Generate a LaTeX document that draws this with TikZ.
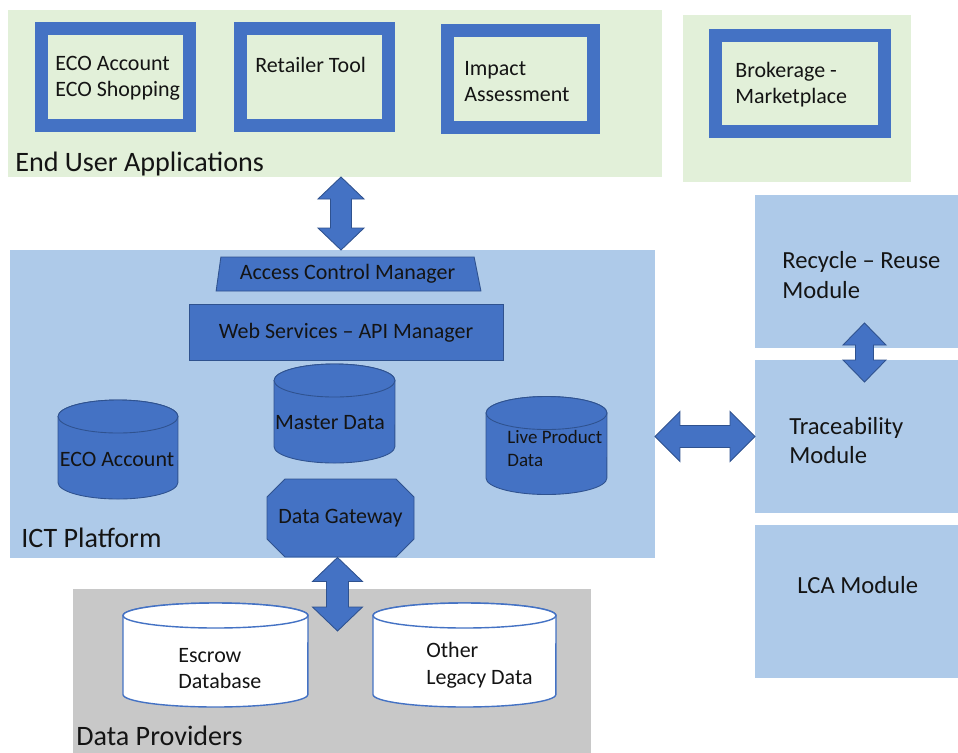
\documentclass[tikz,border=0pt]{standalone}
\usepackage{fontspec}
\setmainfont{Carlito}
\usetikzlibrary{positioning,calc,shapes.geometric,shapes.misc}
\definecolor{office}{RGB}{68,114,196}
\definecolor{officedk}{RGB}{47,82,143}
\definecolor{skyish}{RGB}{174,202,233}
\definecolor{mint}{RGB}{226,240,217}
\definecolor{stone}{RGB}{200,200,200}
\definecolor{ink}{RGB}{20,20,20}
\newlength{\px}
\setlength{\px}{0.02cm}
\tikzset{
  panel/.style={fill=#1,anchor=north west,inner sep=0pt,outer sep=0pt},
  panel/.default=skyish,
  appbox/.style={draw=office,line width=13\px,fill=mint,inner sep=0pt},
  apptxt/.style={anchor=west,align=left,inner sep=0pt,text=ink,
    font=\fontsize{12.5}{14.8}\selectfont},
  title/.style={anchor=west,inner sep=0pt,text=ink,font=\fontsize{16}{19}\selectfont},
  modtxt/.style={anchor=west,align=left,inner sep=0pt,text=ink,
    font=\fontsize{14}{16.8}\selectfont},
  solid/.style={fill=office,draw=officedk,line width=0.5pt,inner sep=0pt,text=ink,
    font=\fontsize{12.5}{14.8}\selectfont},
  dbtxt/.style={inner sep=0pt,align=left,text=ink,font=\fontsize{12.5}{15.2}\selectfont},
  canblue/.style={fill=office,draw=officedk,line width=0.5pt},
  canwhite/.style={fill=white,draw=office,line width=0.8pt},
  arrowfill/.style={fill=office,draw=officedk,line width=0.5pt},
  % database can: width, height, cap radius (px), style
  pics/can/.style n args={4}{code={
    \path[#4] (-#1/2,-#2/2+#3) -- (-#1/2,#2/2-#3)
      arc[start angle=180,end angle=360,x radius=#1*0.01cm,y radius=#3*0.02cm]
      -- (#1/2,-#2/2+#3)
      arc[start angle=0,end angle=180,x radius=#1*0.01cm,y radius=#3*0.02cm] -- cycle;
    \path[#4] (0,-#2/2+#3) ellipse[x radius=#1*0.01cm,y radius=#3*0.02cm];
  }},
}
% block arrow with a head at both ends: from, to, head length, head half width, shaft half width
\newcommand{\fatarrow}[5]{%
  \filldraw[arrowfill] (#1)
    -- ($(#1)!#3!(#2)!#4!90:(#2)$) -- ($(#1)!#3!(#2)!#5!90:(#2)$)
    -- ($(#2)!#3!(#1)!#5!-90:(#1)$) -- ($(#2)!#3!(#1)!#4!-90:(#1)$)
    -- (#2)
    -- ($(#2)!#3!(#1)!#4!90:(#1)$) -- ($(#2)!#3!(#1)!#5!90:(#1)$)
    -- ($(#1)!#3!(#2)!#5!-90:(#2)$) -- ($(#1)!#3!(#2)!#4!-90:(#2)$)
    -- cycle;}

\begin{document}
\begin{tikzpicture}[x=0.02cm,y=-0.02cm]
  \useasboundingbox (0,0) rectangle (958,752);

  % end user applications
  \node[panel=mint,minimum width=654\px,minimum height=167\px] (eua) at (8,10) {};
  \node[panel=mint,minimum width=228\px,minimum height=167\px] (mkt) at (683,15) {};
  \foreach \n/\x/\y/\w/\h in {eco/115.5/77/148/97, ret/314.5/77/148/97,
      imp/520.5/79/146/97, brk/799.5/83/169/96}
    \node[appbox,minimum width=\w\px,minimum height=\h\px] (\n) at (\x,\y) {};
  \node[apptxt] (ecot) at (55,78) {ECO Account\\ECO Shopping};
  \node[apptxt] (rett) at (255,65) {Retailer Tool};
  \node[apptxt] (impt) at (464,82) {Impact\\Assessment};
  \node[apptxt] (brkt) at (735,85) {Brokerage -\\Marketplace};
  \node[title] (euat) at (15,164) {End User Applications};

  % ICT platform
  \node[panel,minimum width=645\px,minimum height=308\px] (ict) at (10,250) {};
  \node[solid,trapezium,trapezium left angle=78,trapezium right angle=73,
    trapezium stretches=true,minimum width=265\px,minimum height=34\px] (acm)
    at (347.5,274) {Access Control Manager};
  \node[solid,minimum width=314\px,minimum height=56\px] (wsm) at (346,332.5)
    {Web Services -- API Manager};
  \pic (mdc) at (334.5,413.5) {can={121}{99}{16.5}{canblue}};
  \pic (ecc) at (118,449.5) {can={120}{99}{16.5}{canblue}};
  \pic (lpc) at (546.5,445.5) {can={121}{98}{16.5}{canblue}};
  \node[dbtxt] (mdt) at (330,423) {Master Data};
  \node[dbtxt] (ect) at (117,459) {ECO Account};
  \node[dbtxt,anchor=west,font=\fontsize{10.8}{13}\selectfont] (lpt) at (507,448.5)
    {Live Product\\Data};
  \node[solid,chamfered rectangle,chamfered rectangle xsep=9\px,
    chamfered rectangle ysep=9\px,minimum width=147\px,minimum height=78\px] (dgw)
    at (340.5,518) {Data Gateway};
  \node[title] (ictt) at (21,538) {ICT Platform};

  % data providers
  \node[panel=stone,minimum width=518\px,minimum height=170\px] (dp) at (73,589) {};
  \pic (esc) at (215.5,655) {can={185}{104}{12.5}{canwhite}};
  \pic (olc) at (464.5,655) {can={183}{104}{12.5}{canwhite}};
  \node[dbtxt,anchor=west] (est) at (178,668.5) {Escrow\\Database};
  \node[dbtxt,anchor=west] (olt) at (426,665.5) {Other\\Legacy Data};
  \node[title,anchor=base west] (dpt) at (76,745) {Data Providers};

  % modules
  \foreach \n/\y in {rrm/195,trm/360,lca/525}
    \node[panel,minimum width=205\px,minimum height=153\px] (\n) at (755,\y) {};
  \node[modtxt] (rrt) at (782,275) {Recycle -- Reuse\\Module};
  \node[modtxt] (trt) at (789,440.5) {Traceability\\Module};
  \node[modtxt] (lcat) at (797,585) {LCA Module};

  % connectors
  \coordinate (euab) at ([xshift=6\px]eua.south);
  \coordinate (ictn) at (euab |- ict.north);
  \coordinate (dgwb) at ([xshift=-3\px]dgw.south);
  \coordinate (dptip) at ([yshift=-42\px]dgwb |- dp.north);
  \coordinate (icte) at (ict.east |- trm.west);
  \coordinate (rrtip) at ([xshift=7\px,yshift=25\px]rrm.south);
  \coordinate (trtip) at ([xshift=7\px,yshift=-22\px]trm.north);
  \fatarrow{euab}{ictn}{0.44cm}{0.46cm}{0.21cm}
  \fatarrow{dgwb}{dptip}{0.48cm}{0.5cm}{0.22cm}
  \fatarrow{icte}{trm.west}{0.5cm}{0.5cm}{0.22cm}
  \fatarrow{rrtip}{trtip}{0.44cm}{0.43cm}{0.18cm}
\end{tikzpicture}
\end{document}
